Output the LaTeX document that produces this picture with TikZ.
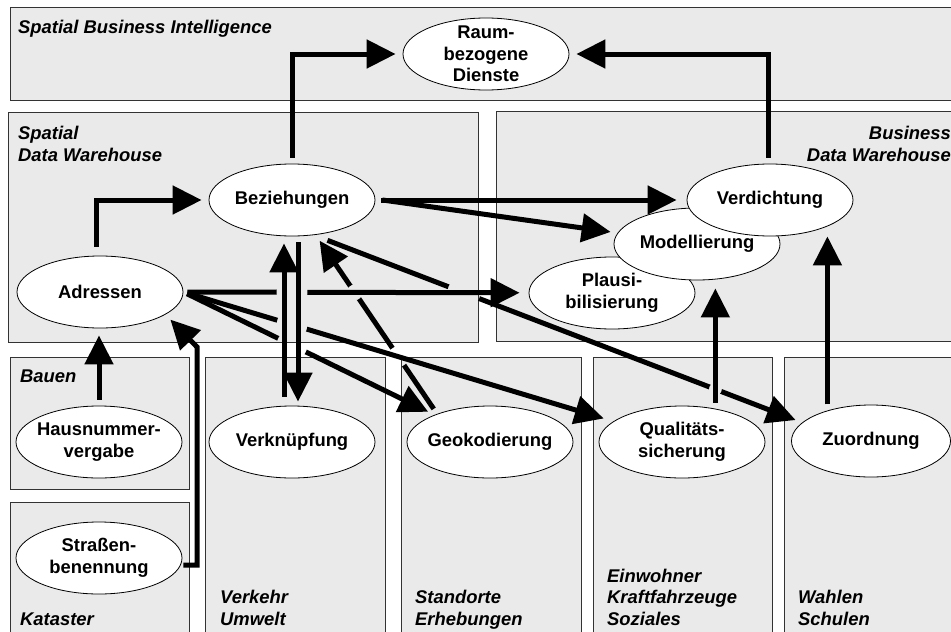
\documentclass[tikz,border=0pt]{standalone}
\usepackage{fontspec}
\setmainfont{Liberation Sans}
\usepackage{tikz}
\usetikzlibrary{arrows.meta,shapes.geometric,calc,intersections}
\definecolor{layergray}{RGB}{234,234,234}
\tikzset{
  layer/.style={draw=black!80,line width=0.8pt,fill=layergray},
  layername/.style={inner sep=0pt,align=left,
                    font=\bfseries\itshape\fontsize{18.4}{21.5}\selectfont},
  task/.style={ellipse,draw,line width=0.8pt,fill=white,minimum width=166pt,
               minimum height=72pt,inner xsep=-30pt,inner ysep=-25pt,align=center,
               font=\bfseries\fontsize{18.4}{21.5}\selectfont},
  flow/.style={-{Triangle[length=29pt,width=28pt]},line width=5pt,
               shorten >=7pt,shorten <=6pt},
  gapclip/.style={insert path={(-20,-20) -- (980,-20) -- (980,660) -- (-20,660) -- cycle}},
}

\begin{document}
\begin{tikzpicture}[x=1pt,y=-1pt]
  \useasboundingbox (0,0) rectangle (951,632);
  % Layers
  \draw[layer] (10,7) rectangle (960,100);
  \draw[layer] (8,112) rectangle (478,342);
  \draw[layer] (496,111) rectangle (960,341);
  \draw[layer] (10,357) rectangle (189,489);
  \draw[layer] (10,502) rectangle (189,640);
  \draw[layer] (205,357) rectangle (385,640);
  \draw[layer] (401,357) rectangle (581,640);
  \draw[layer] (593,357) rectangle (772,640);
  \draw[layer] (784,357) rectangle (960,640);
  % Layer names (base = last line)
  \node[layername,anchor=base west] (nsbi) at (18,33) {Spatial Business Intelligence};
  \node[layername,anchor=base west] (nsdw) at (18,161) {Spatial\\Data Warehouse};
  \node[layername,anchor=base east,align=right] (nbdw) at (951,161) {Business\\Data Warehouse};
  \node[layername,anchor=base west] (nbau) at (20,382) {Bauen};
  \node[layername,anchor=base west] (nkat) at (20,625) {Kataster};
  \node[layername,anchor=base west] (nvrk) at (220,625) {Verkehr\\Umwelt};
  \node[layername,anchor=base west] (nstd) at (415,625) {Standorte\\Erhebungen};
  \node[layername,anchor=base west] (nein) at (607,625) {Einwohner\\Kraftfahrzeuge\\Soziales};
  \node[layername,anchor=base west] (nwah) at (798,625) {Wahlen\\Schulen};
  % Tasks
  \node[task] (raum)  at (486,54)  {Raum-\\bezogene\\Dienste};
  \node[task] (bez)   at (292,200) {Beziehungen};
  \node[task] (plaus) at (612,293) {Plausi-\\bilisierung};
  \node[task] (model) at (697,244) {Modellierung};
  \node[task] (verd)  at (770,200) {Verdichtung};
  \node[task] (adr)   at (100,292) {Adressen};
  \node[task] (haus)  at (99,442)  {Hausnummer-\\vergabe};
  \node[task] (str)   at (99,558)  {Straßen-\\benennung};
  \node[task] (verk)  at (292,442) {Verknüpfung};
  \node[task] (geo)   at (490,442) {Geokodierung};
  \node[task] (qual)  at (682,442) {Qualitäts-\\sicherung};
  \node[task,minimum width=159pt] (zuo) at (871,441) {Zuordnung};
  \coordinate (bend) at (197,347);
  % Crossing points of the flows
  \path[name path=fv] (bez) -- (verk);
  \path[name path=fh] (adr.east) -- (plaus);
  \path[name path=fa] (adr.east) -- (qual);
  \path[name path=fb] (adr.east) -- (geo);
  \path[name path=fc] (bez.-58) -- (zuo.165);
  \path[name path=fd] (geo.152) -- (bez);
  \path[name path=fq] (qual.45) -- (qual.45 |- model.south);
  \path[name intersections={of=fh and fv,by=xhv}];
  \path[name intersections={of=fa and fv,by=xav}];
  \path[name intersections={of=fb and fv,by=xbv}];
  \path[name intersections={of=fc and fh,by=xch}];
  \path[name intersections={of=fc and fq,by=xcq}];
  \path[name intersections={of=fd and fh,by=xdh}];
  \path[name intersections={of=fd and fa,by=xda}];
  % Flows broken where others pass over them
  \begin{scope}
    \clip (xch) circle (16.5pt) (xcq) circle (6.5pt) [gapclip];
    \draw[flow,shorten <=14.5pt] (bez.-58) -- (zuo.165);
  \end{scope}
  \begin{scope}
    \clip (xdh) circle (8pt) (xda) circle (10.5pt) [gapclip];
    \draw[flow] (geo.152) -- (bez);
  \end{scope}
  \begin{scope}
    \clip (xhv) circle (15.5pt) [gapclip];
    \draw[flow,shorten <=4pt,shorten >=9pt] (adr.east) -- (plaus);
  \end{scope}
  \begin{scope}
    \clip (xav) circle (15.5pt) [gapclip];
    \draw[flow,shorten <=4pt,shorten >=10pt] (adr.east) -- (qual);
  \end{scope}
  \begin{scope}
    \clip (xbv) circle (15.5pt) [gapclip];
    \draw[flow,shorten <=4pt] (adr.east) -- (geo);
  \end{scope}
  % Flows on top
  \draw[flow] (bez) |- (raum);
  \draw[flow] ([xshift=-2pt]verd.north) |- (raum);
  \draw[flow,shorten <=9pt] ([xshift=-4pt]adr.north) |- (bez);
  \draw[flow,shorten >=10pt] (bez) -- (verd);
  \draw[flow,shorten <=0pt] ([xshift=7pt]bez.east) -- (model);
  \draw[flow] (haus) -- (haus |- adr.south);
  \draw[flow,shorten <=1pt] ([yshift=-7pt]str.east) -| (bend) -- (adr.-19);
  \draw[flow,shorten >=8pt] (qual.45) -- (qual.45 |- model.south);
  \draw[flow,shorten >=0pt] (zuo.145) -- (zuo.145 |- verd.south);
  \draw[flow,shorten <=9pt] ([xshift=-8pt]verk.north) -- ([xshift=-8pt]verk.north |- bez.south);
  \draw[flow,shorten >=4pt] ([xshift=6pt]bez.south) -- ([xshift=6pt]bez.south |- verk.north);
\end{tikzpicture}
\end{document}
